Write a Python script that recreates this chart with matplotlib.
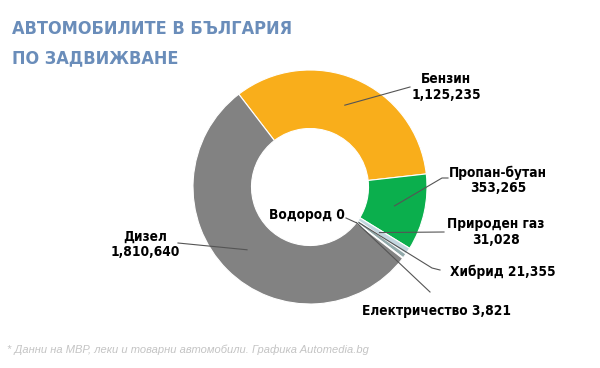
import numpy as np
import matplotlib.pyplot as plt

# data
fuels = ['Бензин', 'Пропан-бутан', 'Природен газ', 'Хибрид', 'Електричество', 'Водород', 'Дизел']
cars = [1125235, 353265, 31028, 21355, 3821, 0, 1810640]
colors = ['#F9AE1B', '#0BAF4D', '#C3D6DF', '#93AAAB', '#5E7877', '#AAAAAA', '#828282']
label_text = ['Бензин\n1,125,235', 'Пропан-бутан\n353,265', 'Природен газ\n31,028',
              'Хибрид 21,355', 'Електричество 3,821', 'Водород 0', 'Дизел\n1,810,640']

W, H = 600, 368
fig = plt.figure(figsize=(6, 3.68), dpi=100)
ax = fig.add_axes([0, 0, 1, 1])

def py(y):
    # pixel y (top down) -> data y
    return H - y

cx, cy, R = 310, py(187), 117
wedges, _ = ax.pie(cars, colors=colors, startangle=127.5, counterclock=False,
                   center=(cx, cy), radius=R, frame=True,
                   wedgeprops=dict(width=R * 0.5, edgecolor='white', linewidth=0.8))
ax.set_xlim(0, W)
ax.set_ylim(0, H)
ax.set_aspect('equal')
ax.axis('off')

# label layout: anchor radius, elbow (x, y), line end (x, y), text centre (x, y)
layout = [
    (0.76, (410, 87), (410, 87), (446, 87)),
    (0.74, (442, 178), (448, 178), (498, 180)),
    (0.71, (444, 232), (444, 232), (496, 232)),
    (0.52, (432, 268), (440, 270), (503, 272)),
    (0.50, (430, 292), (430, 292), (436, 311)),
    (0.50, (346, 218), (346, 218), (307, 215)),
    (0.76, (178, 243), (178, 243), (145, 244)),
]
for w, txt, (rf, (ex, ey), (lx, ly), (tx, ty)) in zip(wedges, label_text, layout):
    mid = np.deg2rad((w.theta1 + w.theta2) / 2)
    axx = cx + R * rf * np.cos(mid)
    ayy = cy + R * rf * np.sin(mid)
    ax.plot([axx, ex, lx], [ayy, py(ey), py(ly)], color='#555555', lw=0.8)
    ax.text(tx, py(ty), txt, ha='center', va='center', fontsize=9.8, fontweight='bold',
            fontstretch='condensed', family='DejaVu Sans', linespacing=1.1, color='black')

title_kw = dict(fontsize=13, fontweight='bold', fontstretch='condensed', family='DejaVu Sans',
                color='#6A8DBA', va='center', ha='left')
fig.text(12 / W, 1 - 29 / H, 'АВТОМОБИЛИТЕ В БЪЛГАРИЯ', **title_kw)
fig.text(12 / W, 1 - 58 / H, 'ПО ЗАДВИЖВАНЕ', **title_kw)
fig.text(7 / W, 1 - 350 / H, '* Данни на МВР, леки и товарни автомобили. Графика Automedia.bg',
         fontsize=8, style='italic', color='#C4C4C4', va='center', ha='left',
         family=['Liberation Sans', 'DejaVu Sans'])

fig.savefig('out.png', dpi=100, facecolor='white')
